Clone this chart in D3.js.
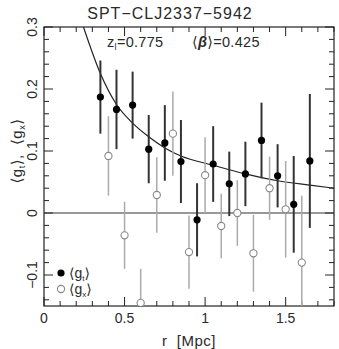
<!DOCTYPE html>
<html>
<head>
<meta charset="utf-8">
<script src="https://cdn.jsdelivr.net/npm/d3@7"></script>
<style>
  body { margin: 0; background: #fff; }
  svg text { font-family: "Liberation Sans", "DejaVu Sans", sans-serif; fill: #2a2a2a; white-space: pre; }
</style>
</head>
<body>
<div id="chart"></div>
<script>
// tangential shear <g_t>
const rT = [0.35, 0.45, 0.55, 0.65, 0.75, 0.85, 0.95, 1.05, 1.15, 1.25, 1.35, 1.45, 1.55, 1.65];
const gT = [0.187, 0.167, 0.174, 0.103, 0.113, 0.083, -0.011, 0.079, 0.047, 0.063, 0.117, 0.060, 0.014, 0.084];
const eT = [0.059, 0.064, 0.054, 0.055, 0.061, 0.067, 0.059, 0.061, 0.052, 0.052, 0.061, 0.051, 0.078, 0.108];

// cross shear <g_x>
const rX = [0.4, 0.5, 0.6, 0.7, 0.8, 0.9, 1.0, 1.1, 1.2, 1.3, 1.4, 1.5, 1.6];
const gX = [0.092, -0.036, -0.145, 0.029, 0.128, -0.063, 0.061, -0.021, 0.000, -0.065, 0.040, 0.006, -0.080];
const eX = [0.064, 0.054, 0.055, 0.061, 0.068, 0.059, 0.061, 0.052, 0.053, 0.062, 0.051, 0.078, 0.108];

// model curve
const rModel = [0.245, 0.35, 0.45, 0.55, 0.65, 0.75, 0.85, 1.05, 1.25, 1.45, 1.65, 1.8];
const gModel = [0.30, 0.225, 0.175, 0.145, 0.123, 0.105, 0.092, 0.077, 0.063, 0.052, 0.045, 0.040];

const xTicks = [0, 0.5, 1, 1.5];
const yTicks = [-0.1, 0, 0.1, 0.2, 0.3];

const width = 339, height = 349;
const margin = {top: 27, right: 5, bottom: 43, left: 44};

const svg = d3.select('#chart').append('svg')
    .attr('width', width)
    .attr('height', height);

const x = d3.scaleLinear().domain([0, 1.8]).range([margin.left, width - margin.right]);
const y = d3.scaleLinear().domain([-0.15, 0.3]).range([height - margin.bottom, margin.top]);

svg.append('clipPath').attr('id', 'clip')
    .append('rect')
    .attr('x', x(0)).attr('y', y(0.3))
    .attr('width', x(1.8) - x(0)).attr('height', y(-0.15) - y(0.3));

// ticks on all four sides, pointing inward
const xMinor = d3.range(0, 1.81, 0.1).map(v => +v.toFixed(2));
const yMinor = d3.range(-0.14, 0.301, 0.02).map(v => +v.toFixed(2));
const isMajor = (v, step) => Math.abs(v / step - Math.round(v / step)) < 1e-6;

const axisG = svg.append('g').attr('stroke', '#222').attr('stroke-width', 1);
xMinor.forEach(v => {
    const len = isMajor(v, 0.5) ? 9 : 5;
    axisG.append('line').attr('x1', x(v)).attr('x2', x(v)).attr('y1', y(-0.15)).attr('y2', y(-0.15) - len);
    axisG.append('line').attr('x1', x(v)).attr('x2', x(v)).attr('y1', y(0.3)).attr('y2', y(0.3) + len);
});
yMinor.forEach(v => {
    const len = isMajor(v, 0.1) ? 9 : 5;
    axisG.append('line').attr('x1', x(0)).attr('x2', x(0) + len).attr('y1', y(v)).attr('y2', y(v));
    axisG.append('line').attr('x1', x(1.8)).attr('x2', x(1.8) - len).attr('y1', y(v)).attr('y2', y(v));
});

// zero line
svg.append('line')
    .attr('x1', x(0)).attr('x2', x(1.8))
    .attr('y1', y(0)).attr('y2', y(0))
    .attr('stroke', '#333').attr('stroke-width', 1);

// frame
svg.append('rect')
    .attr('x', x(0)).attr('y', y(0.3))
    .attr('width', x(1.8) - x(0)).attr('height', y(-0.15) - y(0.3))
    .attr('fill', 'none').attr('stroke', '#222').attr('stroke-width', 1.2);

// tick labels
svg.selectAll('.xlab').data(xTicks).join('text')
    .attr('x', d => x(d)).attr('y', 323)
    .attr('text-anchor', 'middle').style('font-size', '14px')
    .text(d => d);

svg.selectAll('.ylab').data(yTicks).join('text')
    .attr('transform', d => `translate(37,${y(d)}) rotate(-90)`)
    .attr('text-anchor', 'middle').style('font-size', '14px')
    .text(d => d === 0 ? '0' : (d < 0 ? '\u2212' + Math.abs(d) : d));

// axis titles
svg.append('text')
    .attr('x', x(0.9)).attr('y', 346)
    .attr('text-anchor', 'middle').style('font-size', '15px')
    .style('letter-spacing', '0.5px')
    .text('r  [Mpc]');

const yTitle = svg.append('text')
    .attr('transform', `translate(22,${y(0.1)}) rotate(-90)`)
    .attr('text-anchor', 'middle').style('font-size', '15px')
    .style('letter-spacing', '0.5px');
yTitle.append('tspan').text('\u27E8g');
yTitle.append('tspan').attr('dy', 3).style('font-size', '9px').text('t');
yTitle.append('tspan').attr('dy', -3).text('\u27E9,  \u27E8g');
yTitle.append('tspan').attr('dy', 3).style('font-size', '9px').text('x');
yTitle.append('tspan').attr('dy', -3).text('\u27E9');

// title and annotation
svg.append('text')
    .attr('x', 170).attr('y', 19)
    .attr('text-anchor', 'middle').style('font-size', '16px')
    .style('letter-spacing', '1px')
    .text('SPT\u2212CLJ2337\u22125942');

const ann = svg.append('text').attr('x', 107).attr('y', 47)
    .style('font-size', '14.5px').style('letter-spacing', '0.3px');
ann.append('tspan').text('z');
ann.append('tspan').attr('dy', 3).style('font-size', '9px').text('l');
ann.append('tspan').attr('dy', -3).text('=0.775');

const ann2 = svg.append('text').attr('x', 192).attr('y', 47)
    .style('font-size', '14.5px').style('letter-spacing', '0.3px');
ann2.append('tspan').text('\u27E8');
ann2.append('tspan').style('font-style', 'italic').style('font-weight', 'bold').text('\u03B2');
ann2.append('tspan').text('\u27E9=0.425');

const plot = svg.append('g').attr('clip-path', 'url(#clip)');

// model curve
const line = d3.line()
    .x((d, i) => x(rModel[i]))
    .y(d => y(d))
    .curve(d3.curveMonotoneX);
plot.append('path')
    .datum(gModel)
    .attr('d', line)
    .attr('fill', 'none')
    .attr('stroke', '#222')
    .attr('stroke-width', 1.2);

// cross shear error bars and points
plot.selectAll('.ebx').data(gX).join('line')
    .attr('x1', (d, i) => x(rX[i])).attr('x2', (d, i) => x(rX[i]))
    .attr('y1', (d, i) => y(d - eX[i])).attr('y2', (d, i) => y(d + eX[i]))
    .attr('stroke', '#aaa').attr('stroke-width', 1.5);
plot.selectAll('.ptx').data(gX).join('circle')
    .attr('cx', (d, i) => x(rX[i])).attr('cy', d => y(d))
    .attr('r', 3.6)
    .attr('fill', '#fff').attr('stroke', '#888').attr('stroke-width', 1.1);

// tangential shear error bars and points
plot.selectAll('.ebt').data(gT).join('line')
    .attr('x1', (d, i) => x(rT[i])).attr('x2', (d, i) => x(rT[i]))
    .attr('y1', (d, i) => y(d - eT[i])).attr('y2', (d, i) => y(d + eT[i]))
    .attr('stroke', '#333').attr('stroke-width', 2);
plot.selectAll('.ptt').data(gT).join('circle')
    .attr('cx', (d, i) => x(rT[i])).attr('cy', d => y(d))
    .attr('r', 3.6)
    .attr('fill', '#000');

// legend
const leg = svg.append('g');
leg.append('circle').attr('cx', 61).attr('cy', 273).attr('r', 3.6).attr('fill', '#000');
leg.append('circle').attr('cx', 61).attr('cy', 289).attr('r', 3.6)
    .attr('fill', '#fff').attr('stroke', '#888').attr('stroke-width', 1.1);
const l1 = leg.append('text').attr('x', 69).attr('y', 278).style('font-size', '14px');
l1.append('tspan').text('\u27E8g');
l1.append('tspan').attr('dy', 3).style('font-size', '8px').text('t');
l1.append('tspan').attr('dy', -3).text('\u27E9');
const l2 = leg.append('text').attr('x', 69).attr('y', 294).style('font-size', '14px');
l2.append('tspan').text('\u27E8g');
l2.append('tspan').attr('dy', 3).style('font-size', '8px').text('x');
l2.append('tspan').attr('dy', -3).text('\u27E9');
</script>
</body>
</html>
